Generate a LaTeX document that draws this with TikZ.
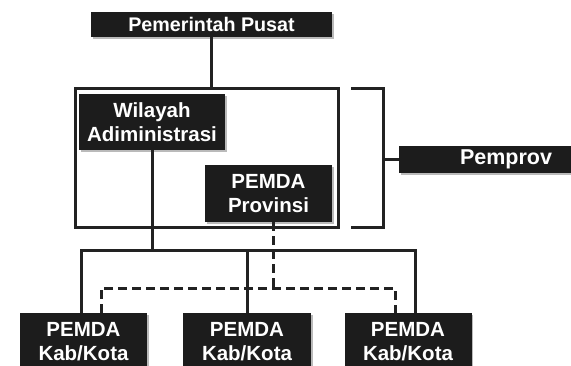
\documentclass[tikz,border=0pt]{standalone}
\usepackage{fontspec}
\setmainfont{Liberation Sans}
\usepackage{tikz}
\usetikzlibrary{shadows}

\definecolor{boxblack}{HTML}{1C1C1C}
\definecolor{linegray}{HTML}{222222}

\begin{document}
\begin{tikzpicture}[x=1pt,y=-1pt,
	box/.style={fill=boxblack, text=white, inner sep=0pt, align=center,
		font=\bfseries\fontsize{20.5}{23.5}\selectfont,
		drop shadow={shadow xshift=1.6pt, shadow yshift=-1.6pt, fill=black!45, opacity=0.6}},
	frame/.style={draw=linegray, line width=3pt, inner sep=0pt},
	con/.style={draw=linegray, line width=3pt},
	dashcon/.style={con, dash pattern=on 9pt off 5pt}
]

\useasboundingbox (0,0) rectangle (571,365);

% frame round Wilayah Administrasi and PEMDA Provinsi
\node[frame, minimum width=263pt, minimum height=139pt] (pemprovframe) at (206.5,157.5) {};

\node[box, minimum width=241pt, minimum height=25pt, font=\bfseries\fontsize{19.7}{23}\selectfont] (pusat) at (211.5,24.5) {Pemerintah Pusat};
\node[box, minimum width=146pt, minimum height=56pt] (wilayah) at (152,122) {Wilayah\\Adiministrasi};
\node[box, minimum width=127pt, minimum height=57pt] (provinsi) at (268.5,193.5) {PEMDA\\Provinsi};
\node[box, minimum width=214pt, minimum height=27pt, font=\bfseries\fontsize{21.5}{24}\selectfont] (pemprov) at (506,159.5) {Pemprov};

\node[box, minimum width=127pt, minimum height=57pt] (kab1) at (83.5,341.5) {PEMDA\\Kab/Kota};
\node[box, minimum width=128pt, minimum height=57pt] (kab2) at (247,341.5) {PEMDA\\Kab/Kota};
\node[box, minimum width=127pt, minimum height=57pt] (kab3) at (408,341.5) {PEMDA\\Kab/Kota};

\coordinate (brtop) at (351,88);
\coordinate (brbot) at (351,227);
\coordinate (brmid) at (383,159.5);
\coordinate (busL) at (81,250);
\coordinate (busR) at (415,250);
\coordinate (dashL) at (101,288);
\coordinate (dashR) at (395,288);
\coordinate (provdash) at (273,288);

\draw[con] (pusat.south) -- (pusat.south |- pemprovframe.north);

% bracket to Pemprov
\draw[con] (brtop) -- ++(32,0) |- (brbot);
\draw[con] (brmid) -- (pemprov.west);

% solid lines to Kab/Kota
\draw[con] (wilayah.south) -- (wilayah.south |- busL);
\draw[con] (kab1.north -| busL) |- (busR) -- (busR |- kab3.north);
\draw[con] (kab2.north) -- (kab2.north |- busL);

% dashed lines from PEMDA Provinsi
\draw[dashcon] (provinsi.south -| provdash) -- (provdash);
\draw[dashcon] (kab1.north -| dashL) |- (dashR) -- (dashR |- kab3.north);

\end{tikzpicture}
\end{document}
